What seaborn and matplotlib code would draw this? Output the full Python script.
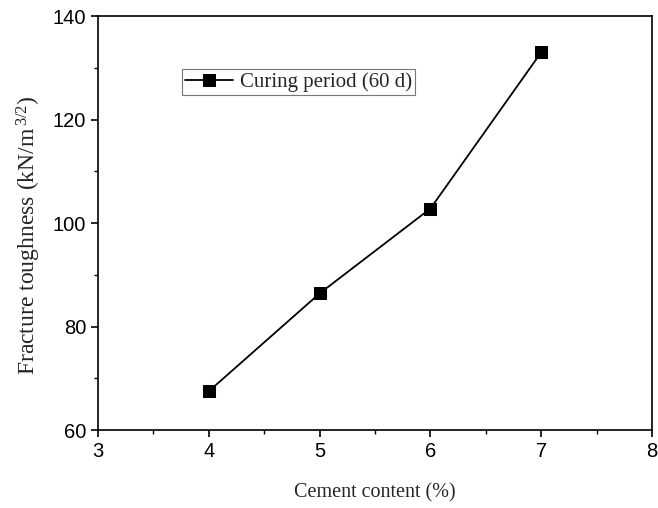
import pandas as pd
import matplotlib
matplotlib.use('Agg')
import matplotlib.pyplot as plt
import seaborn as sns

# 数据
cement = [4, 5, 6, 7]
toughness = [67.5, 86.4, 102.8, 133.0]
series_name = 'Curing period (60 d)'

df = pd.DataFrame({'Cement content (%)': cement, 'Fracture toughness': toughness})

sns.set_style('ticks')
plt.rcParams['font.family'] = ['Liberation Serif', 'DejaVu Serif']
plt.rcParams['mathtext.fontset'] = 'custom'
plt.rcParams['mathtext.rm'] = 'Liberation Serif'
plt.rcParams['mathtext.it'] = 'Liberation Serif'

fig = plt.figure(figsize=(6.58, 5.08), dpi=100)
ax = fig.add_axes([0.149, 0.1535, 0.842, 0.815])

sns.lineplot(data=df, x='Cement content (%)', y='Fracture toughness', marker='s',
             color='black', markersize=8, markeredgecolor='black', linewidth=1.3,
             label=series_name, ax=ax)

ax.set_xlim(3, 8)
ax.set_ylim(60, 140)
ax.set_xticks([3, 4, 5, 6, 7, 8])
ax.set_xticks([3.5, 4.5, 5.5, 6.5, 7.5], minor=True)
ax.set_yticks([60, 80, 100, 120, 140])
ax.set_yticks([70, 90, 110, 130], minor=True)
for lab in ax.get_xticklabels() + ax.get_yticklabels():
    lab.set_family(['Liberation Sans', 'DejaVu Sans'])
    lab.set_fontsize(14.5)
ax.tick_params(which='major', direction='out', length=5, width=1.2, colors='black')
ax.tick_params(which='minor', direction='out', length=3, width=1.0, colors='black')
for s in ax.spines.values():
    s.set_visible(True)
    s.set_linewidth(1.2)
    s.set_color('black')

ax.set_xlabel('Cement content (%)', fontsize=14.5, labelpad=16)
ax.set_ylabel('Fracture toughness (kN/m$^{\\,3/2}$)', fontsize=17)
ax.yaxis.set_label_coords(-0.099, 0.47)

leg = ax.legend(loc='upper left', bbox_to_anchor=(0.152, 0.872), fontsize=15,
                frameon=True, fancybox=False, handlelength=2.3, handletextpad=0.3,
                borderpad=0.15, borderaxespad=0)
leg.get_frame().set_edgecolor('#555555')
leg.get_frame().set_linewidth(0.8)

fig.savefig('out.png', dpi=100)
